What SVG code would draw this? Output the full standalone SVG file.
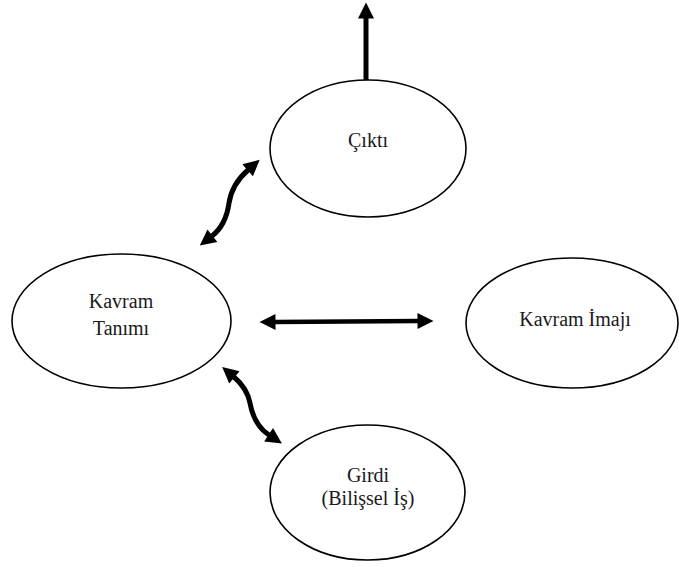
<svg xmlns="http://www.w3.org/2000/svg" width="679" height="567" viewBox="0 0 679 567">
<style>
.node ellipse{fill:#fff;stroke:#000;stroke-width:1.6}
.node text{font-family:"Liberation Serif","Times New Roman",serif;font-size:20px;fill:#1a1a1a;text-anchor:middle}
.conn path{fill:none;stroke:#000;stroke-width:5;marker-start:url(#ah);marker-end:url(#ah)}
.conn path.one{marker-start:none}
</style>
<defs>
<marker id="ah" markerUnits="userSpaceOnUse" markerWidth="17" markerHeight="16" refX="0.5" refY="8" orient="auto-start-reverse" overflow="visible">
<path d="M0,0 L16,8 L0,16 z" fill="#000"/>
</marker>
</defs>
<rect width="679" height="567" fill="#fff"/>
<g id="connectors" class="conn">
<path class="one" d="M366,81 L366,18"/>
<path d="M275,322 L418,321" style="stroke-width:4.5"/>
<path d="M248,170 Q232,184 229,203 Q226,225 212,236"/>
<path d="M234,377 Q247,388 250,403 Q254,425 269,435"/>
</g>
<g id="cikti" class="node">
<ellipse cx="368" cy="148.5" rx="98" ry="68.5"/>
<text x="368" y="147">Çıktı</text>
</g>
<g id="kavram-tanimi" class="node">
<ellipse cx="121.5" cy="321" rx="109.5" ry="67"/>
<text x="121" y="308">Kavram</text>
<text x="121" y="335">Tanımı</text>
</g>
<g id="kavram-imaji" class="node">
<ellipse cx="572" cy="323" rx="106" ry="65"/>
<text x="575" y="326">Kavram İmajı</text>
</g>
<g id="girdi" class="node">
<ellipse cx="367.5" cy="492.5" rx="97.5" ry="67.5"/>
<text x="368" y="482">Girdi</text>
<text x="368" y="505">(Bilişsel İş)</text>
</g>
</svg>
